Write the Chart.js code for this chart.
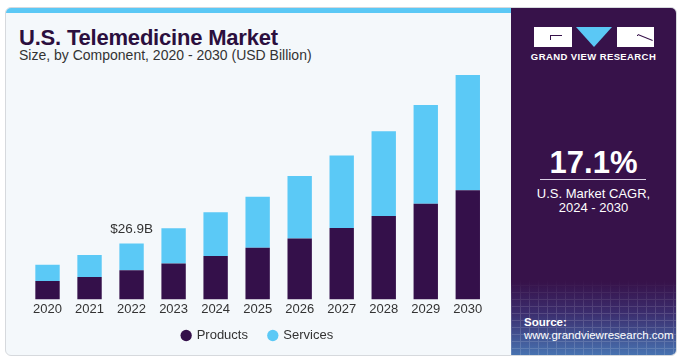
<!DOCTYPE html>
<html>
<head>
<meta charset="utf-8">
<script src="https://cdn.jsdelivr.net/npm/chart.js@4"></script>
<style>
  html, body { margin: 0; padding: 0; background: #ffffff; }
  body { width: 683px; height: 360px; position: relative; overflow: hidden; font-family: "Liberation Sans", Arial, sans-serif; }
  .card { position: absolute; left: 5px; top: 7px; width: 670px; height: 347px; background: #f4f8fb; border: 1px solid #d6d9dd; border-radius: 6px; overflow: hidden; }
  .strip { position: absolute; left: 0; top: 0; width: 506px; height: 5px; background: #5bc8f5; }
  .title { position: absolute; left: 13px; top: 17px; font-size: 22px; font-weight: bold; color: #2b0f3e; letter-spacing: -0.2px; }
  .subtitle { position: absolute; left: 13px; top: 39px; font-size: 14px; color: #333; }
  .panel { position: absolute; left: 505px; top: 0; width: 165px; height: 347px; color: #fff;
    background: linear-gradient(to bottom, #37124a 0%, #37124a 79%, #3b2d6e 88%, #4772b0 100%); }
  .mesh { position: absolute; left: 0; top: 270px; width: 165px; height: 77px; opacity: 0.14;
    background-image: repeating-linear-gradient(to right, #ffffff 0 1px, transparent 1px 9px),
                      repeating-linear-gradient(to bottom, #ffffff 0 1px, transparent 1px 7px);
    -webkit-mask-image: linear-gradient(to bottom, transparent 0%, #000 45%);
    mask-image: linear-gradient(to bottom, transparent 0%, #000 45%); }
  .logo { position: absolute; top: 19px; height: 20px; background: #fff; }
  .logo i { position: absolute; background: #37124a; }
  .tri { position: absolute; left: 65px; top: 19px; width: 0; height: 0; border-left: 18px solid transparent; border-right: 18px solid transparent; border-top: 20px solid #5bc8f5; }
  .brand { position: absolute; left: 0; top: 43px; width: 165px; text-align: center; font-size: 9.5px; font-weight: bold; letter-spacing: 0.4px; }
  .cagr { position: absolute; left: 0; top: 137px; width: 165px; text-align: center; font-size: 31px; font-weight: bold; }
  .rule { position: absolute; left: 29px; top: 171px; width: 106px; height: 1px; background: #d9cfe3; }
  .cagr-text { position: absolute; left: 0; top: 179px; width: 165px; text-align: center; font-size: 13px; line-height: 14px; }
  .source { position: absolute; left: 13px; top: 308px; font-size: 11.5px; line-height: 13px; }
  #chartBox { position: absolute; left: 5px; top: 60px; width: 500px; height: 292px; }
</style>
</head>
<body>
<div class="card">
  <div class="strip"></div>
  <div class="title">U.S. Telemedicine Market</div>
  <div class="subtitle">Size, by Component, 2020 - 2030 (USD Billion)</div>
  <div class="panel">
    <div class="mesh"></div>
    <div class="logo" style="left:23px;width:38px"><i style="left:16px;top:8px;width:12px;height:1px"></i><i style="left:16px;top:8px;width:1px;height:5px"></i></div>
    <div class="tri"></div>
    <div class="logo" style="left:106px;width:37px"><i style="left:20px;top:8px;width:1px;height:1px"></i><i style="left:21px;top:7px;width:16px;height:1px;transform:rotate(22deg);transform-origin:0 0"></i></div>
    <div class="brand">GRAND VIEW RESEARCH</div>
    <div class="cagr">17.1%</div>
    <div class="rule"></div>
    <div class="cagr-text">U.S. Market CAGR,<br>2024 - 2030</div>
    <div class="source"><b>Source:</b><br>www.grandviewresearch.com</div>
  </div>
</div>
<div id="chartBox"><canvas id="chart"></canvas></div>
<script>
// ---- data ----
const years = ['2020', '2021', '2022', '2023', '2024', '2025', '2026', '2027', '2028', '2029', '2030'];
const products = [8.9, 10.8, 14.0, 17.2, 20.9, 24.8, 29.3, 34.3, 40.1, 46.0, 52.5];
const services = [7.8, 10.5, 12.9, 17.0, 21.0, 24.5, 30.0, 34.9, 40.8, 47.5, 55.4];
const calloutYear = '2022';
const calloutText = '$26.9B';

const FONT = '"Liberation Sans", Arial, sans-serif';

// label above one stacked bar
const calloutPlugin = {
  id: 'callout',
  afterDatasetsDraw(chart) {
    const idx = years.indexOf(calloutYear);
    const bar = chart.getDatasetMeta(1).data[idx];
    if (!bar) return;
    const ctx = chart.ctx;
    ctx.save();
    ctx.font = '13.5px ' + FONT;
    ctx.fillStyle = '#333333';
    ctx.textAlign = 'center';
    ctx.textBaseline = 'bottom';
    ctx.fillText(calloutText, bar.x, bar.y - 7);
    ctx.restore();
  }
};

new Chart(document.getElementById('chart'), {
  type: 'bar',
  data: {
    labels: years,
    datasets: [
      { label: 'Products', data: products, backgroundColor: '#34104a' },
      { label: 'Services', data: services, backgroundColor: '#5bc9f6' }
    ]
  },
  options: {
    responsive: true,
    maintainAspectRatio: false,
    animation: false,
    layout: { padding: { left: 21.5, right: 16.2, top: 10.6, bottom: 0 } },
    datasets: { bar: { categoryPercentage: 1, barPercentage: 0.58 } },
    scales: {
      x: {
        stacked: true,
        grid: { display: false, drawTicks: false },
        border: { display: false },
        ticks: { color: '#333333', font: { family: FONT, size: 13 }, padding: 2 }
      },
      y: {
        stacked: true,
        display: false,
        min: 0,
        max: 110
      }
    },
    plugins: {
      legend: {
        position: 'bottom',
        labels: {
          usePointStyle: true,
          pointStyle: 'circle',
          boxWidth: 8,
          boxHeight: 8,
          padding: 10,
          color: '#333333',
          font: { family: FONT, size: 13 },
          // wider gap between the two entries without extra vertical padding
          generateLabels(chart) {
            const items = Chart.defaults.plugins.legend.labels.generateLabels(chart);
            items.forEach((it, i) => { if (i < items.length - 1) it.text += '   '; });
            return items;
          }
        }
      },
      tooltip: { enabled: false }
    }
  },
  plugins: [calloutPlugin]
});
</script>
</body>
</html>
